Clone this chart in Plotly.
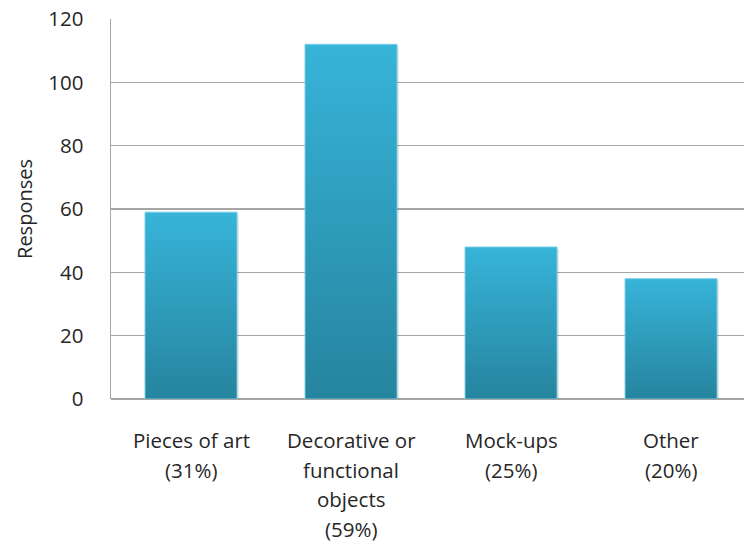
import plotly.graph_objects as go

categories = [["Pieces of art", "(31%)"],
              ["Decorative or", "functional", "objects", "(59%)"],
              ["Mock-ups", "(25%)"],
              ["Other", "(20%)"]]
values = [59, 112, 48, 38]
y_ticks = [0, 20, 40, 60, 80, 100, 120]

FONT = "Open Sans, sans-serif"
TEXT = "#262626"
GRID = "#A6A6A6"
DARK = "#26849E"
LIGHT = "#37B4D9"
BAR_W = 0.575

fig = go.Figure()
for i, v in enumerate(values):
    x0, x1 = i - BAR_W / 2, i + BAR_W / 2
    # soft shadow
    fig.add_trace(go.Scatter(
        x=[x0 + 0.008, x1 + 0.012, x1 + 0.012, x0 + 0.008, x0 + 0.008],
        y=[0, 0, v - 0.6, v - 0.6, 0],
        mode="lines", line=dict(width=0), fill="toself",
        fillcolor="rgba(0,0,0,0.10)", hoverinfo="skip", showlegend=False))
    fig.add_trace(go.Scatter(
        x=[x0, x1, x1, x0, x0], y=[0, 0, v, v, 0],
        mode="lines", line=dict(width=1, color="rgba(120,205,230,0.9)"),
        fill="toself",
        fillgradient=dict(type="vertical", colorscale=[[0, DARK], [1, LIGHT]]),
        hoverinfo="skip", showlegend=False))

for i, lines in enumerate(categories):
    for j, line in enumerate(lines):
        fig.add_annotation(x=i, y=0, xref="x", yref="paper", text=line,
                           showarrow=False, yanchor="middle", xanchor="center",
                           yshift=-41 - 29.5 * j,
                           font=dict(family=FONT, size=20.5, color=TEXT))

fig.update_layout(
    width=744, height=542,
    margin=dict(l=111, r=0, t=19, b=143, autoexpand=False),
    paper_bgcolor="white", plot_bgcolor="white",
    font=dict(family=FONT, color=TEXT),
    xaxis=dict(range=[-0.5, 3.456], showgrid=False, showticklabels=False,
               zeroline=False, showline=False, fixedrange=True,
               automargin=False),
    yaxis=dict(range=[0, 120], tickvals=y_ticks, showgrid=True, gridcolor=GRID,
               gridwidth=1.5, showline=True, linecolor=GRID, linewidth=1.5,
               zeroline=True, zerolinecolor=GRID, zerolinewidth=1.5,
               automargin=False,
               ticks="", ticklabelstandoff=22, ticklabeloverflow="allow",
               tickfont=dict(family=FONT, size=20.5, color=TEXT),
               title=dict(text="Responses", standoff=10,
                          font=dict(family=FONT, size=20, color=TEXT))),
)

fig.write_html("out.html",
               config={"displayModeBar": False, "staticPlot": True},
               post_script="document.body.style.margin='0';"
                           "document.body.style.overflow='hidden';")
